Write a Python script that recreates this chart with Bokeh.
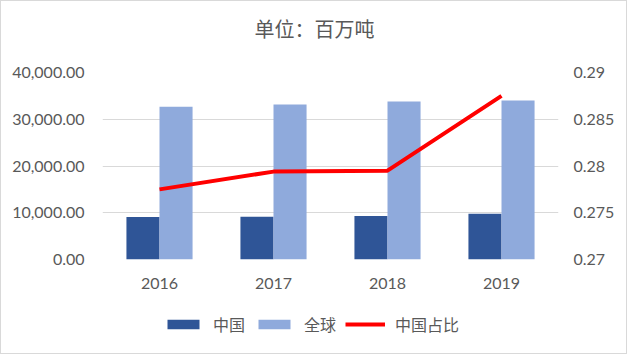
from bokeh.plotting import figure
from bokeh.layouts import column
from bokeh.core.properties import value
from bokeh.models import (ColumnDataSource, Range1d, LinearAxis, NumeralTickFormatter,
                          FixedTicker, Legend, LegendItem, FactorRange)
from bokeh.transform import dodge
from bokeh.embed import file_html
from bokeh.resources import INLINE

years = ["2016", "2017", "2018", "2019"]
china = [9100, 9150, 9300, 9800]
world = [32700, 33150, 33800, 34000]
ratio = [0.2775, 0.2794, 0.2795, 0.2875]
title_text = "单位：百万吨"
series_names = ["中国", "全球", "中国占比"]
left_ticks = [0, 10000, 20000, 30000, 40000]
right_ticks = [0.27, 0.275, 0.28, 0.285, 0.29]

src = ColumnDataSource(dict(year=years, china=china, world=world, ratio=ratio))

TXT = "#595959"
NUMFONT = "Lato"
CJK = "Noto Sans CJK SC"
C_CHINA = "#2F5597"
C_WORLD = "#8FAADC"
C_RATIO = "#FF0000"


def strip(h):
    f = figure(width=625, height=h, x_range=Range1d(0, 1), y_range=Range1d(0, 1),
               output_backend="svg", toolbar_location=None,
               min_border_left=0, min_border_right=0, min_border_top=0, min_border_bottom=0)
    f.axis.visible = False
    f.grid.visible = False
    f.outline_line_color = None
    return f


# title strip
tf = strip(54)
tf.text(x=[0.5], y=[0.5], text=[title_text], text_align="center", text_baseline="middle",
        x_offset=-16, text_font=value(CJK), text_font_size="20px", text_color=TXT)

# main chart
p = figure(width=625, height=246, x_range=FactorRange(*years), y_range=Range1d(0, 40000),
           output_backend="svg", toolbar_location=None,
           min_border_left=101, min_border_right=68, min_border_top=17, min_border_bottom=42)
p.outline_line_color = None
p.extra_y_ranges = {"ratio": Range1d(0.27, 0.29)}

p.vbar(x=dodge("year", -0.145, range=p.x_range), top="china", width=0.29,
       source=src, color=C_CHINA, line_color=None)
p.vbar(x=dodge("year", 0.145, range=p.x_range), top="world", width=0.29,
       source=src, color=C_WORLD, line_color=None)
p.line(x="year", y="ratio", source=src, y_range_name="ratio",
       line_color=C_RATIO, line_width=4)

ya = p.yaxis[0]
ya.ticker = FixedTicker(ticks=left_ticks)
ya.formatter = NumeralTickFormatter(format="0,0.00")
ya.axis_line_color = None
ya.major_tick_line_color = None
ya.minor_tick_line_color = None
ya.major_label_text_font = NUMFONT
ya.major_label_text_font_size = "16px"
ya.major_label_text_color = TXT
ya.major_label_standoff = 12

ra = LinearAxis(y_range_name="ratio", ticker=FixedTicker(ticks=right_ticks),
                formatter=NumeralTickFormatter(format="0.[000]"))
ra.axis_line_color = None
ra.major_tick_line_color = None
ra.minor_tick_line_color = None
ra.major_label_text_font = NUMFONT
ra.major_label_text_font_size = "16px"
ra.major_label_text_color = TXT
ra.major_label_standoff = 9
p.add_layout(ra, "right")

xa = p.xaxis[0]
xa.axis_line_color = None
xa.major_tick_line_color = None
xa.minor_tick_line_color = None
xa.major_label_text_font = NUMFONT
xa.major_label_text_font_size = "16px"
xa.major_label_text_color = TXT
xa.major_label_standoff = 12

p.xgrid.grid_line_color = None
p.ygrid.ticker = FixedTicker(ticks=left_ticks)
p.ygrid.grid_line_color = "#d9d9d9"
p.ygrid.grid_line_width = 1

# legend strip (legend glyphs use off-screen points)
lg = strip(52)
off = ColumnDataSource(dict(x=[-5, -4], y=[-5, -5]))
g1 = lg.rect(x="x", y="y", width=0.1, height=0.1, source=off, color=C_CHINA, line_color=None)
g2 = lg.rect(x="x", y="y", width=0.1, height=0.1, source=off, color=C_WORLD, line_color=None)
g3 = lg.line(x="x", y="y", source=off, line_color=C_RATIO, line_width=4)
legend = Legend(items=[LegendItem(label=series_names[0], renderers=[g1]),
                       LegendItem(label=series_names[1], renderers=[g2]),
                       LegendItem(label=series_names[2], renderers=[g3])],
                orientation="horizontal", location=(61, 17),
                glyph_width=40, glyph_height=12, label_standoff=10, spacing=9,
                label_text_font=CJK, label_text_font_size="16px", label_text_color=TXT,
                border_line_color=None, background_fill_alpha=0, margin=0, padding=4)
lg.add_layout(legend, "center")

layout = column(tf, p, lg, spacing=0)
layout.styles = {"border": "1px solid #d9d9d9"}

open("out.html", "w").write(file_html(layout, INLINE))
